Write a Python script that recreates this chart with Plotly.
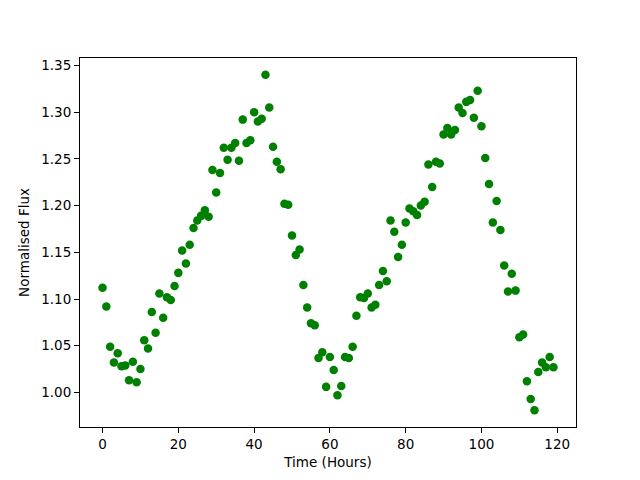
import plotly.graph_objects as go

time_hours = list(range(120))
flux = [
    1.112, 1.092, 1.049, 1.032, 1.042, 1.028, 1.029, 1.013, 1.033, 1.011,
    1.025, 1.056, 1.047, 1.086, 1.064, 1.106, 1.080, 1.102, 1.099, 1.114,
    1.128, 1.152, 1.138, 1.158, 1.176, 1.184, 1.189, 1.195, 1.188, 1.238,
    1.214, 1.235, 1.262, 1.249, 1.262, 1.267, 1.248, 1.292, 1.267, 1.270,
    1.300, 1.290, 1.293, 1.340, 1.305, 1.263, 1.247, 1.239, 1.202, 1.201,
    1.168, 1.147, 1.153, 1.115, 1.091, 1.074, 1.072, 1.037, 1.043, 1.006,
    1.038, 1.024, 0.997, 1.007, 1.038, 1.037, 1.049, 1.082, 1.102, 1.101,
    1.106, 1.091, 1.094, 1.115, 1.130, 1.119, 1.184, 1.172, 1.145, 1.158,
    1.182, 1.197, 1.194, 1.190, 1.200, 1.204, 1.244, 1.220, 1.247, 1.245,
    1.276, 1.283, 1.276, 1.281, 1.305, 1.299, 1.311, 1.313, 1.294, 1.323,
    1.285, 1.251, 1.223, 1.182, 1.205, 1.174, 1.136, 1.108, 1.127, 1.109,
    1.059, 1.062, 1.012, 0.993, 0.981, 1.022, 1.032, 1.027, 1.038, 1.027,
]
x_ticks = [0, 20, 40, 60, 80, 100, 120]
y_ticks = [1.00, 1.05, 1.10, 1.15, 1.20, 1.25, 1.30, 1.35]

fig = go.Figure(go.Scatter(
    x=time_hours, y=flux, mode="markers",
    marker=dict(color="#008000", size=8.5, line=dict(width=0)),
))

xmin, xmax = min(time_hours), max(time_hours)
ymin, ymax = min(flux), max(flux)
xm = (xmax - xmin) * 0.05
ym = (ymax - ymin) * 0.05

axis_common = dict(
    showline=True, linecolor="black", linewidth=1.1, mirror=True,
    ticks="outside", ticklen=5, tickwidth=1.1, tickcolor="black",
    showgrid=False, zeroline=False,
    tickfont=dict(family="DejaVu Sans", size=13.5, color="black"),
    title_font=dict(family="DejaVu Sans", size=13.5, color="black"),
)

fig.update_layout(
    width=632, height=472,
    margin=dict(l=72, r=64, t=50, b=53),
    paper_bgcolor="white", plot_bgcolor="white",
    showlegend=False,
    xaxis=dict(range=[xmin - xm, xmax + xm], tickvals=x_ticks,
               title=dict(text="Time (Hours)", standoff=6), **axis_common),
    yaxis=dict(range=[ymin - ym, ymax + ym], tickvals=y_ticks, tickformat=".2f",
               title=dict(text="Normalised Flux", standoff=8), **axis_common),
)

fig.write_html("out.html")
